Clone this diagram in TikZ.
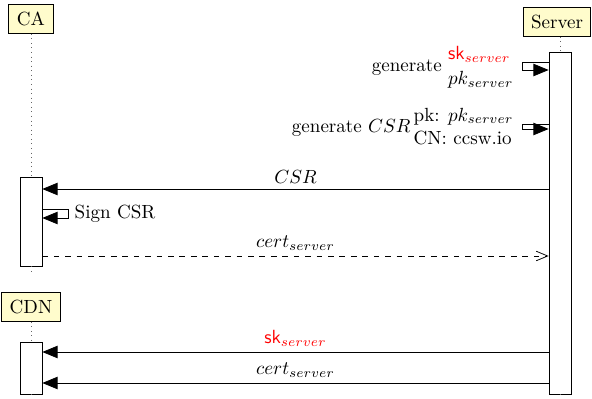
\documentclass[tikz,border=0pt]{standalone}
\usepackage{amsmath,amssymb}
\usepackage{xcolor}
\usetikzlibrary{arrows.meta,calc}

\begin{document}
\begin{tikzpicture}[x=0.525pt,y=-0.525pt,
    inst/.style={draw,fill=yellow!20,inner xsep=4pt,inner ysep=0pt,minimum height=15pt},
    actbox/.style={draw,fill=white,inner sep=0pt,minimum width=11.5pt},
    life/.style={dotted,black!60},
    msg/.style={-{Triangle[length=8pt,width=6.5pt]}},
    reply/.style={dashed,-{Straight Barb[length=6pt,width=5pt]}},
    lbl/.style={above,inner sep=2.5pt}]
    \useasboundingbox (0,0) rectangle (592,399);

    % instances
    \node[inst,minimum width=23.6pt] (ca) at (31,19) {CA};
    \node[inst,minimum width=31pt] (cdn) at (31,307) {CDN};
    \node[inst,minimum width=34pt] (srv) at (557,22) {Server};

    % activations
    \node[actbox,minimum height=46.7pt] (caact) at (31,221.5) {};
    \node[actbox,minimum height=179.6pt] (sact) at (560,223) {};
    \node[actbox,minimum height=27.3pt] (cdnact) at (31,368) {};

    % lifelines
    \draw[life] (caact.north |- ca.south) -- (caact.north);
    \draw[life] (caact.south) -- ++(0,7);
    \draw[life] (cdnact.north |- cdn.south) -- (cdnact.north);
    \draw[life] (cdnact.south) -- ++(0,6);
    \draw[life] (sact.north |- srv.south) -- (sact.north);
    \draw[life] (sact.south) -- ++(0,6);

    % message levels
    \coordinate (lvgen) at (0,62);   \coordinate (lvgenb) at (0,70);
    \coordinate (lvcsr) at (0,124);  \coordinate (lvcsrb) at (0,129);
    \coordinate (lvsend) at (0,189);
    \coordinate (lvsign) at (0,209); \coordinate (lvsignb) at (0,218);
    \coordinate (lvcert) at (0,256);
    \coordinate (lvsk) at (0,352);
    \coordinate (lvcdn) at (0,383);

    % server: key pair and CSR
    \draw[msg] (sact.west |- lvgen) -- ++(-26,0) |- (sact.west |- lvgenb);
    \node[anchor=east] (genkey) at (520,67)
      {generate $\renewcommand{\arraystretch}{1.1}\begin{array}{@{}l@{}}\textcolor{red}{\mathsf{sk}_{server}}\\ pk_{server}\end{array}$};
    \draw[msg] (sact.west |- lvcsr) -- ++(-26,0) |- (sact.west |- lvcsrb);
    \node[anchor=east] (gencsr) at (520,128)
      {generate $CSR$\,\begin{tabular}{@{}l@{}}pk: $pk_{server}$\\ CN: ccsw.io\end{tabular}};

    % CA signs
    \draw[msg] (sact.west |- lvsend) -- node[lbl] {$CSR$} (caact.east |- lvsend);
    \draw[msg] (caact.east |- lvsign) -- ++(26,0) |- (caact.east |- lvsignb);
    \node[anchor=west] (sign) at (68,213.5) {Sign CSR};
    \draw[reply] (caact.east |- lvcert) -- node[lbl] {$cert_{server}$} (sact.west |- lvcert);

    % CDN
    \draw[msg] (sact.west |- lvsk) -- node[lbl] {\textcolor{red}{$\mathsf{sk}_{server}$}} (cdnact.east |- lvsk);
    \draw[msg] (sact.west |- lvcdn) -- node[lbl] {$cert_{server}$} (cdnact.east |- lvcdn);
\end{tikzpicture}
\end{document}
